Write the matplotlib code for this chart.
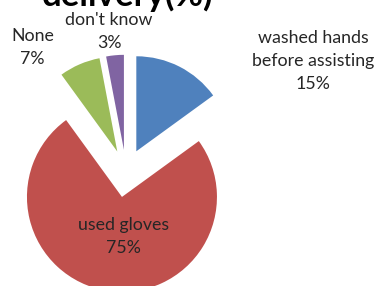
import matplotlib
matplotlib.use("Agg")
import matplotlib.pyplot as plt

# data
labels = ["washed hands\nbefore assisting", "used gloves", "None", "don't know"]
values = [15, 75, 7, 3]
colors = ["#4F81BD", "#C0504D", "#9BBB59", "#8064A2"]
explode = [0.24, 0.27, 0.23, 0.23]

# label positions (pie units, radius = 1)
label_pos = [(1.97, 1.164), (-0.03, -0.683), (-0.984, 1.306), (-0.179, 1.475)]

fig = plt.figure(figsize=(3.76, 2.86), dpi=100)
ax = fig.add_axes([0, 0, 1, 1])
ax.pie(values, colors=colors, explode=explode, startangle=90,
       counterclock=False, radius=1.0)
ax.set_xlim(-1.326, 2.632)
ax.set_ylim(-1.204, 1.806)
ax.set_aspect("equal")
ax.axis("off")

for lab, v, (x, y) in zip(labels, values, label_pos):
    ax.text(x, y, f"{lab}\n{v}%", ha="center", va="center",
            fontsize=12.8, family="Lato", color="#262626", linespacing=1.55)

# title, cut at the top edge as in the source image
ax.text(0.02, 1.745, "delivery(%)", ha="center", va="baseline",
        fontsize=25, fontweight="bold", family="Lato", color="black")

fig.savefig("out.png", dpi=100)
